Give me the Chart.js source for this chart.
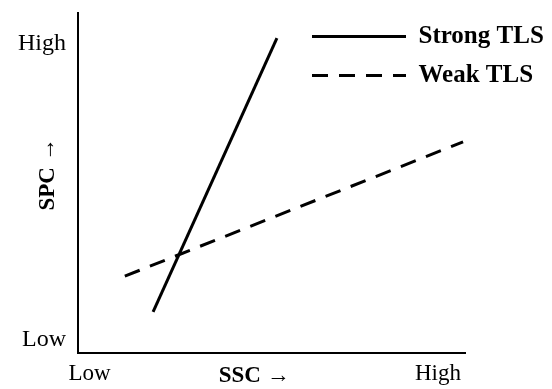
<!DOCTYPE html>
<html>
<head>
<meta charset="utf-8">
<script src="https://cdn.jsdelivr.net/npm/chart.js@4.4.1/dist/chart.umd.min.js"></script>
<style>
  body { margin: 0; background: #fff; }
  canvas { display: block; }
</style>
</head>
<body>
<canvas id="slopeChart" width="552" height="389"></canvas>
<script>
// series (x = SSC, y = SPC, both on a 0-100 scale)
const seriesNames = ["Strong TLS", "Weak TLS"];
const strongX = [19.4, 51.4];
const strongY = [12.1, 92.6];
const weakX = [12.1, 99.5];
const weakY = [22.6, 62.1];

// tick labels and where they sit on each axis
const xTickValues = [3, 93];
const xTickLabels = ["Low", "High"];
const yTickValues = [4, 91];
const yTickLabels = ["Low", "High"];

const toPoints = (xs, ys) => xs.map((x, i) => ({ x: x, y: ys[i] }));

const serif = "'Liberation Serif', 'Times New Roman', serif";

// move the legend to the top-right, over the plot
const legendSpot = {
    id: "legendSpot",
    afterLayout(chart) {
        const lg = chart.legend;
        lg.left = 298;
        lg.right = 552;
        lg.top = 10;
    }
};

const ctx = document.getElementById("slopeChart").getContext("2d");

new Chart(ctx, {
    type: "line",
    data: {
        datasets: [{
            label: seriesNames[0],
            data: toPoints(strongX, strongY),
            borderColor: "#000",
            backgroundColor: "#000",
            borderWidth: 3,
            pointRadius: 0
        }, {
            label: seriesNames[1],
            data: toPoints(weakX, weakY),
            borderColor: "#000",
            backgroundColor: "#000",
            borderWidth: 3,
            borderDash: [16, 11],
            pointRadius: 0
        }]
    },
    options: {
        responsive: false,
        animation: false,
        layout: {
            padding: { left: 0, right: 87, top: 13, bottom: 0 }
        },
        plugins: {
            tooltip: { enabled: false },
            legend: {
                position: "chartArea",
                align: "start",
                labels: {
                    usePointStyle: true,
                    pointStyle: "line",
                    pointStyleWidth: 94,
                    boxHeight: 25,
                    padding: 14,
                    color: "#000",
                    font: { family: serif, size: 25, weight: "bold" },
                    // point style drops the dash, so copy it from the dataset
                    generateLabels: (chart) => {
                        const items = Chart.defaults.plugins.legend.labels.generateLabels(chart);
                        return items.map((item, i) => {
                            item.lineDash = chart.data.datasets[i].borderDash || [];
                            return item;
                        });
                    }
                }
            }
        },
        scales: {
            x: {
                type: "linear",
                min: 0,
                max: 100,
                grid: { display: false, drawTicks: false },
                border: { display: true, color: "#000", width: 2 },
                afterBuildTicks: (scale) => {
                    scale.ticks = xTickValues.map(v => ({ value: v }));
                },
                afterFit: (scale) => {
                    scale.height = 36;
                    scale.paddingLeft = 0;
                    scale.paddingRight = 0;
                },
                ticks: {
                    padding: 7,
                    maxRotation: 0,
                    color: "#000",
                    font: { family: serif, size: 23 },
                    callback: (value, index) => xTickLabels[index]
                },
                title: {
                    display: true,
                    text: "SSC \u2192      ",
                    color: "#000",
                    padding: { top: 0, bottom: -1 },
                    font: { family: serif, size: 23, weight: "bold" }
                }
            },
            y: {
                type: "linear",
                min: 0,
                max: 100,
                grid: { display: false, drawTicks: false },
                border: { display: true, color: "#000", width: 2 },
                afterBuildTicks: (scale) => {
                    scale.ticks = yTickValues.map(v => ({ value: v }));
                },
                afterFit: (scale) => {
                    scale.width = 78;
                    scale.paddingTop = 0;
                    scale.paddingBottom = 0;
                },
                ticks: {
                    padding: 12,
                    color: "#000",
                    font: { family: serif, size: 24 },
                    callback: (value, index) => yTickLabels[index]
                },
                title: {
                    display: true,
                    text: "   SPC \u2192",
                    color: "#000",
                    padding: { top: 34, bottom: 0 },
                    font: { family: serif, size: 23, weight: "bold" }
                }
            }
        }
    },
    plugins: [legendSpot]
});
</script>
</body>
</html>
